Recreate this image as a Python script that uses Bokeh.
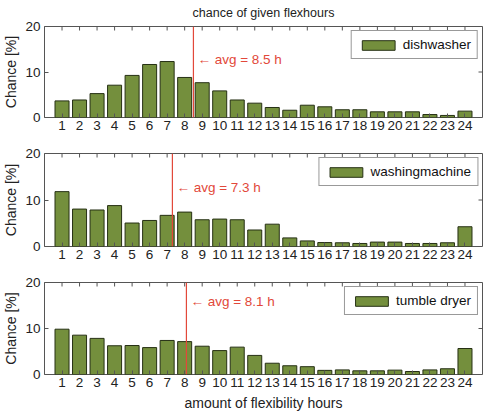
import math
from bokeh.plotting import figure
from bokeh.layouts import column
from bokeh.models import (ColumnDataSource, LinearAxis, Span, Label, Legend,
                          LegendItem, FixedTicker, Range1d)
from bokeh.embed import file_html
from bokeh.resources import INLINE

hours = list(range(1, 25))
y_ticks = [0, 10, 20]

dishwasher = [3.65, 3.85, 5.25, 7.1, 9.25, 11.65, 12.3, 8.8, 7.65, 5.85, 3.85, 3.15,
              2.2, 1.6, 2.7, 2.35, 1.7, 1.7, 1.25, 1.25, 1.25, 0.65, 0.45, 1.4]
washingmachine = [11.8, 8.05, 7.85, 8.8, 5.05, 5.6, 6.7, 7.4, 5.75, 5.9, 5.75, 3.55,
                  4.8, 1.85, 1.2, 0.85, 0.8, 0.65, 0.95, 0.95, 0.65, 0.65, 0.8, 4.25]
tumble_dryer = [9.85, 8.55, 7.85, 6.25, 6.3, 5.85, 7.4, 7.15, 6.15, 5.2, 5.95, 4.15,
                2.45, 1.9, 1.7, 0.9, 1.0, 0.8, 0.8, 0.95, 0.65, 1.0, 1.25, 5.65]

appliances = ["dishwasher", "washingmachine", "tumble dryer"]
averages = [8.5, 7.3, 8.1]
avg_label_y = [12.8, 12.7, 15.9]
series = [dishwasher, washingmachine, tumble_dryer]
title_text = "chance of given flexhours"

X_MIN, X_MAX = 0, 25
Y_MIN, Y_MAX = 0, 20

FONT = "Liberation Sans"
BAR = "#748f3d"
EDGE = "#263014"
RED = "#e2483a"
FRAME = "#555555"
TEXT = "#222222"

# (height, top border, bottom border) for each panel
panel_dims = [(138, 25, 21), (127, 15, 19), (151, 17, 42)]


def make_panel(i):
    h, top, bottom = panel_dims[i]
    p = figure(width=489, height=h, output_backend="svg", toolbar_location=None,
               x_range=Range1d(X_MIN, X_MAX), y_range=Range1d(Y_MIN, Y_MAX),
               min_border_left=39, min_border_right=7,
               min_border_top=top, min_border_bottom=bottom,
               x_axis_location=None, y_axis_location=None)
    p.grid.visible = False
    p.outline_line_color = FRAME
    p.outline_line_width = 1
    p.background_fill_color = "white"
    p.border_fill_color = "white"

    src = ColumnDataSource(dict(x=hours, y=series[i]))
    r = p.vbar(x="x", top="y", width=0.8, source=src, fill_color=BAR,
               line_color=EDGE, line_width=1)

    def styled(axis):
        axis.major_tick_in = 4
        axis.major_tick_out = 0
        axis.minor_tick_in = 0
        axis.minor_tick_out = 0
        axis.axis_line_color = None
        axis.major_tick_line_color = FRAME
        axis.major_label_text_font = FONT
        axis.major_label_text_font_size = "13.5px"
        axis.major_label_text_color = TEXT
        axis.axis_label_text_font = FONT
        axis.axis_label_text_font_size = "14px"
        axis.axis_label_text_font_style = "normal"
        axis.axis_label_text_color = TEXT
        return axis

    bx = styled(LinearAxis(ticker=FixedTicker(ticks=hours)))
    bx.major_label_standoff = 3
    if i == 2:
        bx.axis_label = "amount of flexibility hours"
        bx.axis_label_standoff = 5
    p.add_layout(bx, "below")

    ly = styled(LinearAxis(ticker=FixedTicker(ticks=y_ticks)))
    ly.axis_label = "Chance [%]"
    ly.major_label_standoff = 4
    ly.axis_label_standoff = 3
    p.add_layout(ly, "left")

    # inward ticks mirrored on the top and right edges of the box
    p.ray(x=hours, y=[Y_MAX] * len(hours), length=4, length_units="screen",
          angle=-math.pi / 2, line_color=FRAME, line_width=1)
    p.ray(x=[X_MAX] * len(y_ticks), y=y_ticks, length=4, length_units="screen",
          angle=math.pi, line_color=FRAME, line_width=1)

    p.add_layout(Span(location=averages[i], dimension="height",
                      line_color=RED, line_width=1.2))
    p.add_layout(Label(x=averages[i], y=avg_label_y[i], x_offset=4,
                       text="\u2190 avg = %.1f h" % averages[i],
                       text_font=FONT, text_font_size="13.5px",
                       text_color=RED, text_baseline="middle"))

    legend = Legend(items=[LegendItem(label=appliances[i], renderers=[r])],
                    location="top_right", margin=4, padding=6, spacing=0,
                    glyph_width=41, glyph_height=12, label_standoff=4,
                    label_text_font=FONT, label_text_font_size="13.5px",
                    label_text_color="#111111", label_height=12,
                    border_line_color="#333333", border_line_width=1,
                    background_fill_alpha=1.0)
    p.add_layout(legend)

    if i == 0:
        p.title.text = title_text
        p.title.align = "center"
        p.title.vertical_align = "top"
        p.title.text_font = FONT
        p.title.text_font_size = "12.5px"
        p.title.text_font_style = "normal"
        p.title.text_color = TEXT
        p.title.standoff = 10
    return p


panels = [make_panel(i) for i in range(3)]
layout = column(*panels, spacing=0)

open("out.html", "w").write(file_html(layout, INLINE))
